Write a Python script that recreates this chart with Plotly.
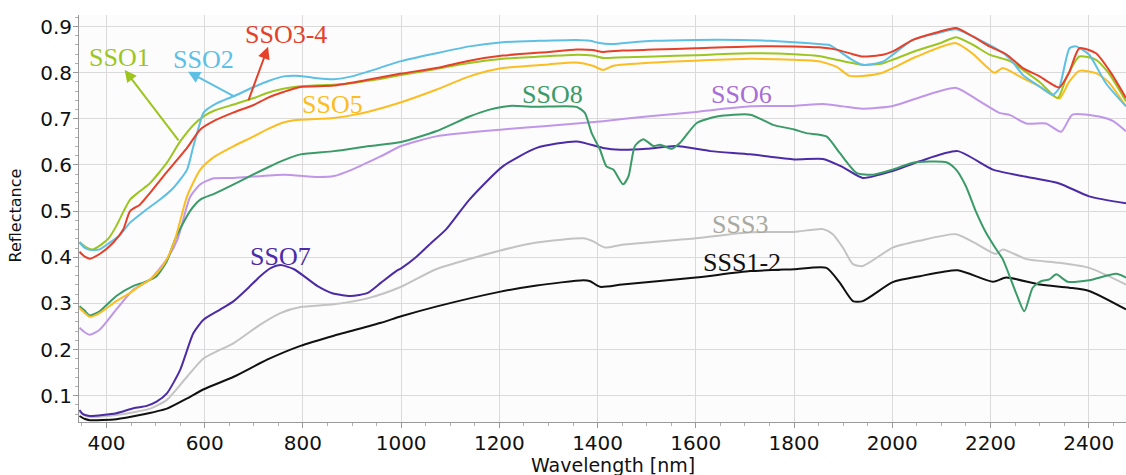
import plotly.graph_objects as go

# ---------------- data ----------------
sso1_wl = [345, 358, 372, 390, 405, 420, 435, 448, 468, 489, 523, 550, 580, 600, 620, 659, 700, 727, 760, 782, 830, 863, 900, 935, 960, 1000, 1071, 1139, 1207, 1300, 1360, 1390, 1412, 1440, 1515, 1600, 1711, 1800, 1850, 1886, 1940, 1980, 2001, 2050, 2100, 2130, 2165, 2198, 2240, 2266, 2300, 2337, 2355, 2381, 2415, 2440, 2476]
sso1_r = [0.433, 0.422, 0.417, 0.428, 0.442, 0.468, 0.500, 0.525, 0.543, 0.561, 0.605, 0.651, 0.690, 0.707, 0.718, 0.731, 0.745, 0.756, 0.765, 0.769, 0.773, 0.774, 0.777, 0.783, 0.787, 0.795, 0.808, 0.821, 0.830, 0.836, 0.839, 0.837, 0.832, 0.833, 0.835, 0.838, 0.842, 0.840, 0.836, 0.828, 0.817, 0.820, 0.828, 0.848, 0.865, 0.877, 0.860, 0.839, 0.825, 0.806, 0.780, 0.745, 0.790, 0.835, 0.828, 0.800, 0.738]

sso2_wl = [345, 356, 366, 386, 407, 427, 448, 482, 509, 536, 564, 577, 590, 598, 625, 659, 700, 730, 761, 795, 830, 863, 900, 935, 1000, 1071, 1139, 1207, 1280, 1357, 1385, 1401, 1425, 1460, 1514, 1600, 1690, 1750, 1800, 1850, 1872, 1893, 1915, 1940, 1981, 2001, 2042, 2090, 2130, 2164, 2218, 2240, 2266, 2300, 2327, 2340, 2361, 2374, 2401, 2435, 2476]
sso2_r = [0.432, 0.420, 0.416, 0.417, 0.432, 0.448, 0.475, 0.504, 0.525, 0.550, 0.590, 0.641, 0.690, 0.714, 0.734, 0.749, 0.769, 0.782, 0.792, 0.793, 0.788, 0.786, 0.792, 0.803, 0.825, 0.842, 0.857, 0.866, 0.869, 0.871, 0.869, 0.865, 0.862, 0.865, 0.869, 0.871, 0.871, 0.869, 0.866, 0.862, 0.860, 0.846, 0.830, 0.817, 0.824, 0.839, 0.871, 0.885, 0.894, 0.878, 0.848, 0.830, 0.795, 0.770, 0.752, 0.767, 0.853, 0.857, 0.839, 0.777, 0.727]

sso34_wl = [345, 355, 366, 386, 414, 434, 448, 468, 489, 516, 564, 591, 618, 659, 700, 727, 760, 795, 863, 935, 1000, 1071, 1139, 1207, 1300, 1357, 1390, 1411, 1450, 1514, 1600, 1711, 1800, 1850, 1886, 1920, 1940, 1981, 2001, 2042, 2090, 2130, 2165, 2198, 2232, 2266, 2300, 2325, 2340, 2360, 2381, 2415, 2445, 2476]
sso34_r = [0.412, 0.402, 0.397, 0.407, 0.432, 0.460, 0.500, 0.514, 0.540, 0.576, 0.637, 0.677, 0.695, 0.714, 0.730, 0.745, 0.758, 0.769, 0.772, 0.785, 0.798, 0.810, 0.826, 0.837, 0.845, 0.850, 0.849, 0.845, 0.848, 0.850, 0.853, 0.857, 0.857, 0.855, 0.850, 0.840, 0.835, 0.839, 0.846, 0.871, 0.887, 0.897, 0.878, 0.857, 0.840, 0.810, 0.792, 0.775, 0.768, 0.800, 0.853, 0.842, 0.800, 0.745]

sso5_wl = [345, 355, 366, 386, 420, 448, 468, 489, 510, 523, 540, 564, 591, 620, 659, 700, 727, 760, 782, 863, 900, 935, 1000, 1071, 1139, 1207, 1300, 1357, 1390, 1411, 1432, 1514, 1600, 1711, 1800, 1850, 1886, 1913, 1940, 1980, 2001, 2050, 2130, 2165, 2208, 2225, 2266, 2300, 2340, 2360, 2381, 2415, 2440, 2476]
sso5_r = [0.290, 0.280, 0.271, 0.279, 0.305, 0.323, 0.338, 0.352, 0.375, 0.396, 0.440, 0.532, 0.590, 0.618, 0.641, 0.662, 0.677, 0.692, 0.697, 0.702, 0.708, 0.716, 0.736, 0.763, 0.792, 0.810, 0.818, 0.822, 0.815, 0.806, 0.815, 0.822, 0.826, 0.830, 0.828, 0.825, 0.813, 0.793, 0.793, 0.800, 0.810, 0.835, 0.864, 0.840, 0.800, 0.810, 0.788, 0.770, 0.744, 0.780, 0.804, 0.799, 0.780, 0.727]

sso6_wl = [345, 355, 366, 386, 420, 455, 489, 523, 545, 570, 591, 618, 659, 761, 829, 863, 900, 959, 1000, 1071, 1207, 1290, 1411, 1500, 1600, 1711, 1800, 1859, 1900, 1940, 2001, 2060, 2130, 2175, 2218, 2240, 2273, 2313, 2344, 2367, 2421, 2450, 2476]
sso6_r = [0.247, 0.238, 0.232, 0.243, 0.287, 0.330, 0.352, 0.396, 0.440, 0.530, 0.558, 0.571, 0.572, 0.579, 0.574, 0.576, 0.590, 0.619, 0.641, 0.662, 0.677, 0.684, 0.695, 0.705, 0.715, 0.727, 0.728, 0.732, 0.727, 0.722, 0.728, 0.748, 0.767, 0.740, 0.713, 0.708, 0.690, 0.690, 0.672, 0.709, 0.705, 0.695, 0.673]

sso7_wl = [345, 352, 366, 420, 455, 482, 502, 523, 550, 577, 598, 632, 659, 690, 713, 735, 754, 782, 829, 860, 897, 932, 959, 990, 1000, 1030, 1060, 1092, 1139, 1207, 1276, 1357, 1411, 1446, 1500, 1560, 1630, 1711, 1800, 1859, 1900, 1940, 2001, 2056, 2133, 2205, 2270, 2340, 2401, 2476]
sso7_r = [0.069, 0.060, 0.056, 0.062, 0.073, 0.078, 0.087, 0.105, 0.156, 0.236, 0.265, 0.287, 0.305, 0.335, 0.359, 0.377, 0.383, 0.374, 0.338, 0.322, 0.316, 0.323, 0.345, 0.370, 0.376, 0.400, 0.430, 0.461, 0.525, 0.597, 0.637, 0.651, 0.637, 0.633, 0.635, 0.641, 0.630, 0.623, 0.612, 0.613, 0.595, 0.572, 0.587, 0.608, 0.630, 0.590, 0.575, 0.560, 0.532, 0.517]

sso8_wl = [345, 355, 366, 386, 420, 455, 475, 502, 523, 540, 570, 591, 620, 659, 700, 727, 760, 795, 863, 935, 1000, 1071, 1139, 1180, 1221, 1276, 1357, 1374, 1388, 1405, 1418, 1432, 1452, 1463, 1476, 1493, 1514, 1527, 1551, 1568, 1602, 1643, 1711, 1757, 1800, 1825, 1866, 1893, 1927, 1961, 2001, 2042, 2110, 2130, 2150, 2170, 2191, 2210, 2225, 2252, 2269, 2286, 2303, 2320, 2334, 2357, 2401, 2456, 2476]
sso8_r = [0.294, 0.285, 0.274, 0.283, 0.316, 0.338, 0.345, 0.359, 0.392, 0.440, 0.500, 0.525, 0.538, 0.558, 0.580, 0.594, 0.610, 0.623, 0.630, 0.641, 0.650, 0.673, 0.705, 0.720, 0.728, 0.726, 0.726, 0.713, 0.669, 0.633, 0.597, 0.590, 0.558, 0.576, 0.641, 0.656, 0.641, 0.644, 0.635, 0.648, 0.691, 0.705, 0.709, 0.687, 0.677, 0.669, 0.662, 0.626, 0.583, 0.579, 0.590, 0.605, 0.606, 0.590, 0.554, 0.500, 0.453, 0.420, 0.396, 0.323, 0.283, 0.334, 0.348, 0.352, 0.363, 0.347, 0.350, 0.364, 0.356]

sss3_wl = [345, 355, 366, 420, 489, 523, 564, 598, 659, 713, 754, 795, 863, 935, 1000, 1071, 1200, 1276, 1371, 1390, 1415, 1450, 1600, 1711, 1800, 1859, 1879, 1900, 1920, 1940, 2001, 2056, 2130, 2170, 2211, 2225, 2273, 2340, 2401, 2476]
sss3_r = [0.065, 0.058, 0.054, 0.058, 0.072, 0.091, 0.141, 0.181, 0.214, 0.254, 0.279, 0.292, 0.298, 0.312, 0.336, 0.374, 0.414, 0.432, 0.441, 0.435, 0.421, 0.427, 0.441, 0.454, 0.455, 0.461, 0.450, 0.420, 0.385, 0.381, 0.421, 0.436, 0.450, 0.430, 0.407, 0.417, 0.396, 0.388, 0.377, 0.341]

sss12_wl = [345, 355, 366, 420, 468, 523, 564, 598, 659, 727, 795, 863, 959, 1000, 1071, 1200, 1276, 1371, 1385, 1405, 1450, 1600, 1711, 1800, 1866, 1893, 1920, 1940, 2001, 2056, 2133, 2205, 2232, 2300, 2361, 2401, 2476]
sss12_r = [0.056, 0.050, 0.047, 0.049, 0.058, 0.072, 0.094, 0.114, 0.141, 0.178, 0.208, 0.230, 0.258, 0.272, 0.293, 0.325, 0.339, 0.350, 0.348, 0.336, 0.341, 0.356, 0.370, 0.374, 0.377, 0.345, 0.305, 0.305, 0.346, 0.359, 0.372, 0.347, 0.356, 0.341, 0.334, 0.327, 0.287]

series = [
    ("SSS1-2", sss12_wl, sss12_r, "#111111"),
    ("SSS3", sss3_wl, sss3_r, "#c3c3c3"),
    ("SSO7", sso7_wl, sso7_r, "#4b2ba6"),
    ("SSO6", sso6_wl, sso6_r, "#c096e8"),
    ("SSO8", sso8_wl, sso8_r, "#3a9b68"),
    ("SSO5", sso5_wl, sso5_r, "#fbbd22"),
    ("SSO1", sso1_wl, sso1_r, "#9cc51f"),
    ("SSO2", sso2_wl, sso2_r, "#5dbfe4"),
    ("SSO3-4", sso34_wl, sso34_r, "#e5402a"),
]

# label text, position (nm, reflectance), colour
labels = [
    ("SSO1", 427, 0.832, "#9cc51f"),
    ("SSO2", 598, 0.828, "#5dbfe4"),
    ("SSO3-4", 765, 0.882, "#e5402a"),
    ("SSO5", 861, 0.731, "#fbbd22"),
    ("SSO8", 1309, 0.752, "#3a9b68"),
    ("SSO6", 1694, 0.752, "#a86dd6"),
    ("SSO7", 755, 0.401, "#4b2ba6"),
    ("SSS3", 1690, 0.471, "#a9a9a3"),
    ("SSS1-2", 1694, 0.389, "#111111"),
]

# arrows: (head nm, head refl, tail nm, tail refl, colour)
arrows = [
    (437, 0.806, 549, 0.650, "#9cc51f"),
    (566, 0.802, 661, 0.748, "#5dbfe4"),
    (729, 0.856, 688, 0.737, "#e5402a"),
]

fig = go.Figure()
for name, wl, r, col in series:
    fig.add_trace(go.Scatter(x=wl, y=r, mode="lines", name=name,
                             line=dict(color=col, width=2, shape="spline", smoothing=0.6),
                             showlegend=False))

for txt, x, y, col in labels:
    fig.add_annotation(x=x, y=y, text=txt, showarrow=False, xanchor="center", yanchor="middle",
                       font=dict(family="Liberation Serif", size=26, color=col))

for hx, hy, tx, ty, col in arrows:
    fig.add_annotation(x=hx, y=hy, ax=tx, ay=ty, axref="x", ayref="y", text="",
                       showarrow=True, arrowhead=2, arrowsize=1.2, arrowwidth=2,
                       arrowcolor=col, standoff=0)

# axis titles
fig.add_annotation(xref="paper", yref="paper", x=0.5, y=0, xshift=10, yshift=-43,
                   text="Wavelength [nm]", showarrow=False, xanchor="center", yanchor="middle",
                   font=dict(size=19, family="DejaVu Sans", color="#111111"))
fig.add_annotation(xref="paper", yref="paper", x=0, y=0.5, xshift=-64, yshift=3,
                   text="Reflectance", textangle=-90, showarrow=False, xanchor="center", yanchor="middle",
                   font=dict(size=16, family="DejaVu Sans", color="#111111"))

fig.update_layout(
    width=1126, height=475,
    margin=dict(l=79, r=0, t=15, b=53),
    paper_bgcolor="white", plot_bgcolor="#fcfcfc",
    font=dict(family="DejaVu Sans", color="#111111"),
)
fig.update_xaxes(
    range=[344, 2476], tickvals=[400, 600, 800, 1000, 1200, 1400, 1600, 1800, 2000, 2200, 2400],
    automargin=False, ticklabelstandoff=-2,
    showgrid=True, gridcolor="#dadada", gridwidth=1, zeroline=False,
    showline=True, linecolor="#9a9a9a", linewidth=1,
    ticks="outside", ticklen=5, tickcolor="#9a9a9a",
    minor=dict(dtick=50, tick0=0, ticks="outside", ticklen=3, tickcolor="#b0b0b0", showgrid=False),
    tickfont=dict(size=20, family="DejaVu Sans", color="#111111"),
)
fig.update_yaxes(
    range=[0.043, 0.925], tickvals=[0.1, 0.2, 0.3, 0.4, 0.5, 0.6, 0.7, 0.8, 0.9],
    tickformat=".1f", automargin=False, ticklabelstandoff=-3,
    showgrid=True, gridcolor="#dadada", gridwidth=1, zeroline=False,
    showline=True, linecolor="#9a9a9a", linewidth=1,
    ticks="outside", ticklen=5, tickcolor="#9a9a9a",
    minor=dict(dtick=0.02, tick0=0, ticks="outside", ticklen=3, tickcolor="#b0b0b0", showgrid=False),
    tickfont=dict(size=20, family="DejaVu Sans", color="#111111"),
)

fig.write_html("out.html", config={"displayModeBar": False},
               post_script="document.body.style.margin='0';")
